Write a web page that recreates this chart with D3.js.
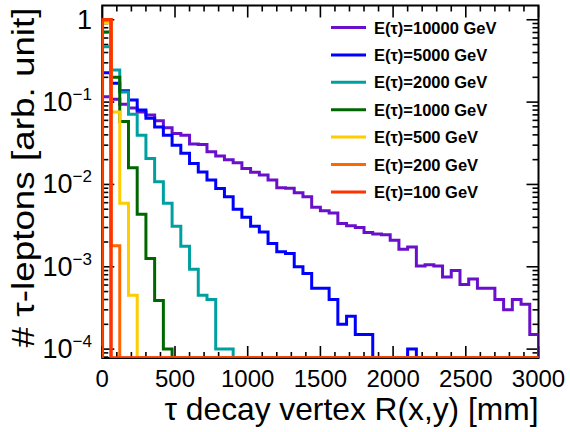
<!DOCTYPE html>
<html>
<head>
<meta charset="utf-8">
<script src="https://cdn.jsdelivr.net/npm/d3@7"></script>
<style>
  body { margin: 0; background: #fff; }
  text { font-family: "Liberation Sans", Arial, sans-serif; }
</style>
</head>
<body>
<div id="chart"></div>
<script>
(function(d3) {
  'use strict';

  // 50 bins of 60 mm, 0..3000
  var binWidth = 60;
  var nBins = 50;

  var labels = ['E(\u03c4)=10000 GeV', 'E(\u03c4)=5000 GeV', 'E(\u03c4)=2000 GeV', 'E(\u03c4)=1000 GeV',
                'E(\u03c4)=500 GeV', 'E(\u03c4)=200 GeV', 'E(\u03c4)=100 GeV'];
  var colors = ['#6a0fcc', '#0000ff', '#00a0a0', '#006600', '#ffcc00', '#ff6600', '#ff3300'];

  var e10000 = [0.116, 0.108, 0.094, 0.085, 0.076, 0.0695, 0.0593, 0.0488, 0.0417, 0.0397,
                0.031, 0.0306, 0.0249, 0.0221, 0.020, 0.0184, 0.0156, 0.0141, 0.013, 0.0113,
                0.0091, 0.0090, 0.0079, 0.0071, 0.0053, 0.0048, 0.0045, 0.00336, 0.00314, 0.0030,
                0.0026, 0.0025, 0.00245, 0.0021, 0.00163, 0.00174, 0.00102, 0.00106, 0.00102, 0.00075,
                0.00090, 0.00061, 0.00071, 0.00055, 0.00055, 0.00040, 0.00030, 0.00040, 0.00035, 0.00015];
  var e5000 = [0.227, 0.169, 0.137, 0.106, 0.080, 0.0636, 0.050, 0.0397, 0.030, 0.024,
               0.0179, 0.0142, 0.0113, 0.0089, 0.0071, 0.0050, 0.0040, 0.0031, 0.00265, 0.00192,
               0.00152, 0.00145, 0.0010, 0.00083, 0.00055, 0.00055, 0.00040, 0.00020, 0.00025, 0.00015,
               0.00015, 0, 0, 0, 0, 0.0001];
  var e2000 = [0.47, 0.245, 0.133, 0.071, 0.0397, 0.0207, 0.0108, 0.0059, 0.0031, 0.00178,
               0.00093, 0.00045, 0.00040, 0.0001, 0.0001];
  var e1000 = [0.71, 0.2, 0.058, 0.0159, 0.00435, 0.00126, 0.00039, 0.0001];
  var e500 = [0.92, 0.076, 0.0059, 0.00045];
  var e200 = [0.998, 0.0018];
  var e100 = [1.0];

  var series = [e10000, e5000, e2000, e1000, e500, e200, e100];

  var xTickLabels = [0, 500, 1000, 1500, 2000, 2500, 3000];
  var yDecades = [-4, -3, -2, -1, 0];

  var width = 570;
  var height = 432;
  var margin = { left: 102.3, right: 31.5, top: 5.5, bottom: 74 };

  var x = d3.scaleLinear().domain([0, 3000])
    .range([margin.left, width - margin.right]);
  var y = d3.scaleLog().domain([7.8e-5, 1.49])
    .range([height - margin.bottom, margin.top]);

  var svg = d3.select('#chart').append('svg')
    .attr('width', width)
    .attr('height', height);

  var x0 = x.range()[0], x1 = x.range()[1];
  var yb = y.range()[0], yt = y.range()[1];

  svg.append('clipPath').attr('id', 'clip')
    .append('rect')
    .attr('x', x0).attr('y', yt - 2)
    .attr('width', x1 - x0).attr('height', yb - yt + 2);

  // frame
  svg.append('rect')
    .attr('x', x0).attr('y', yt)
    .attr('width', x1 - x0).attr('height', yb - yt)
    .attr('fill', 'none').attr('stroke', '#000').attr('stroke-width', 2);

  var ticks = svg.append('g').attr('stroke', '#000').attr('stroke-width', 1.6);

  // x ticks (minor every 100, major every 500), bottom and top
  d3.range(0, 3001, 100).forEach(function(v) {
    var len = (v % 500 === 0) ? 12 : 6;
    ticks.append('line').attr('x1', x(v)).attr('x2', x(v)).attr('y1', yb).attr('y2', yb - len);
    ticks.append('line').attr('x1', x(v)).attr('x2', x(v)).attr('y1', yt).attr('y2', yt + len);
  });

  // y ticks, log
  var yd = y.domain();
  yDecades.concat([-5]).forEach(function(p) {
    for (var k = 1; k < 10; k++) {
      var v = k * Math.pow(10, p);
      if (v < yd[0] || v > yd[1]) continue;
      var len = (k === 1) ? 12 : 6;
      ticks.append('line').attr('x1', x0).attr('x2', x0 + len).attr('y1', y(v)).attr('y2', y(v));
      ticks.append('line').attr('x1', x1).attr('x2', x1 - len).attr('y1', y(v)).attr('y2', y(v));
    }
  });

  // x tick labels
  svg.selectAll('.xlab')
    .data(xTickLabels)
    .enter().append('text')
    .attr('class', 'xlab')
    .attr('x', function(d) { return x(d); })
    .attr('y', 387)
    .attr('text-anchor', 'middle')
    .style('font-size', '24px')
    .text(function(d) { return d; });

  // y tick labels
  yDecades.forEach(function(p) {
    var t = svg.append('text')
      .attr('x', 92)
      .attr('y', y(Math.pow(10, p)) + 9)
      .attr('text-anchor', 'end')
      .style('font-size', '27px');
    if (p === 0) {
      t.text('1');
    } else {
      t.append('tspan').text('10');
      t.append('tspan').attr('dy', -11).style('font-size', '17px').text('\u2212' + (-p));
    }
  });

  // axis titles
  svg.append('text')
    .attr('x', x1)
    .attr('y', 420)
    .attr('text-anchor', 'end')
    .attr('textLength', 374)
    .attr('lengthAdjust', 'spacingAndGlyphs')
    .style('font-size', '30.5px')
    .text('\u03c4 decay vertex R(x,y) [mm]');

  svg.append('text')
    .attr('transform', 'translate(34,' + (yt + 2) + ') rotate(-90)')
    .attr('text-anchor', 'end')
    .attr('textLength', 340)
    .attr('lengthAdjust', 'spacingAndGlyphs')
    .style('font-size', '32px')
    .text('# \u03c4-leptons [arb. unit]');

  // histograms as steps
  function stepPath(vals) {
    var p = 'M' + x(0) + ',' + yb;
    for (var i = 0; i < nBins; i++) {
      var v = vals[i] || 0;
      var py = v > 0 ? Math.min(y(v), yb) : yb;
      p += 'V' + py + 'H' + x((i + 1) * binWidth);
    }
    p += 'V' + yb;
    return p;
  }

  svg.append('g').attr('clip-path', 'url(#clip)')
    .selectAll('path')
    .data(series)
    .enter().append('path')
    .attr('d', stepPath)
    .attr('fill', 'none')
    .attr('stroke', function(d, i) { return colors[i]; })
    .attr('stroke-width', function(d, i) { return i === 6 ? 3.5 : 3; })
    .attr('stroke-linejoin', 'miter');

  // legend
  var legend = svg.selectAll('.legend')
    .data(labels)
    .enter().append('g')
    .attr('class', 'legend')
    .attr('transform', function(d, i) { return 'translate(331,' + (27.5 + i * 27.4) + ')'; });

  legend.append('line')
    .attr('x1', 0).attr('x2', 35)
    .attr('stroke', function(d, i) { return colors[i]; })
    .attr('stroke-width', 3);

  legend.append('text')
    .attr('x', 43)
    .attr('y', 6)
    .style('font-size', '16.5px')
    .style('font-weight', 'bold')
    .text(function(d) { return d; });

})(window.d3);
</script>
</body>
</html>
